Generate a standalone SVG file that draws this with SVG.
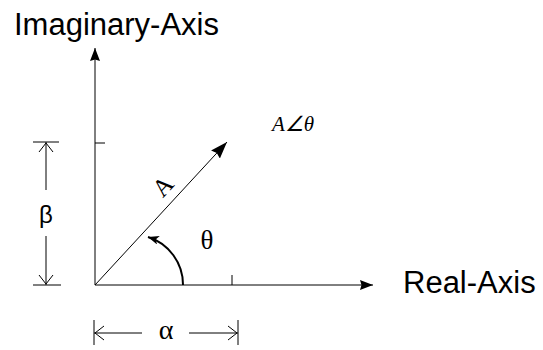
<svg xmlns="http://www.w3.org/2000/svg" width="543" height="350" viewBox="0 0 543 350">
<style>
.ln{stroke:#000;stroke-width:1;fill:none}
.thick{stroke:#000;stroke-width:2;fill:none}
.sans{font-family:"Liberation Sans",Arial,sans-serif;fill:#000}
.serif{font-family:"Liberation Serif","Times New Roman",serif;fill:#000}
</style>
<defs>
<marker id="ah" viewBox="0 0 13 10" refX="13" refY="5" markerWidth="13" markerHeight="10" markerUnits="userSpaceOnUse" orient="auto">
<path d="M0,0 L13,5 L0,10 L1.5,5 Z" fill="#000"/>
</marker>
<marker id="ahv" viewBox="0 0 17 12" refX="17" refY="6" markerWidth="17" markerHeight="12" markerUnits="userSpaceOnUse" orient="auto">
<path d="M0,0 L17,6 L0,12 L2,6 Z" fill="#000"/>
</marker>
<marker id="ahs" viewBox="0 0 11 9" refX="11" refY="4.5" markerWidth="11" markerHeight="9" markerUnits="userSpaceOnUse" orient="auto">
<path d="M0,0 L11,4.5 L0,9 L3,4.5 Z" fill="#000"/>
</marker>
</defs>
<g id="connectors">
<line id="imag-axis" class="ln" x1="95" y1="285" x2="95" y2="48" marker-end="url(#ah)"/>
<line id="real-axis" class="ln" x1="95" y1="285" x2="373" y2="285" marker-end="url(#ah)"/>
<line id="tick-y" class="ln" x1="95" y1="143" x2="105" y2="143"/>
<line id="tick-x" class="ln" x1="232" y1="275" x2="232" y2="285"/>
<line id="vector" class="ln" x1="95" y1="285" x2="227" y2="142" marker-end="url(#ahv)"/>
<path id="angle-arc" class="thick" d="M183,285 A50,50 0 0 0 148,237" marker-end="url(#ahs)"/>
<g id="beta-dim">
<line class="ln" x1="33" y1="142" x2="59" y2="142"/>
<line class="ln" x1="33" y1="285" x2="61" y2="285"/>
<line class="ln" x1="46" y1="142" x2="46" y2="190"/>
<line class="ln" x1="46" y1="236" x2="46" y2="285"/>
<polyline class="ln" points="39,152 46,143 53,152"/>
<polyline class="ln" points="39,275 46,284 53,275"/>
</g>
<g id="alpha-dim">
<line class="ln" x1="94" y1="320" x2="94" y2="345"/>
<line class="ln" x1="238" y1="320" x2="238" y2="345"/>
<line class="ln" x1="94" y1="333" x2="142" y2="333"/>
<line class="ln" x1="189" y1="333" x2="238" y2="333"/>
<polyline class="ln" points="104,326 95,333 104,340"/>
<polyline class="ln" points="228,326 237,333 228,340"/>
</g>
</g>
<g id="label-imag"><text class="sans" x="14" y="35" font-size="31">Imaginary-Axis</text></g>
<g id="label-real"><text class="sans" x="403" y="293" font-size="31">Real-Axis</text></g>
<g id="label-phasor"><text class="serif" x="272" y="131" font-size="21" font-style="italic">A∠θ</text></g>
<g id="label-A"><text class="serif" font-size="25" text-anchor="middle" transform="translate(169,192) rotate(-47)">A</text></g>
<g id="label-theta"><text class="serif" x="207" y="249" font-size="27" text-anchor="middle">θ</text></g>
<g id="label-beta"><text class="sans" x="46" y="223" font-size="24" text-anchor="middle">β</text></g>
<g id="label-alpha"><text class="serif" x="166" y="339" font-size="28" text-anchor="middle">α</text></g>
</svg>
